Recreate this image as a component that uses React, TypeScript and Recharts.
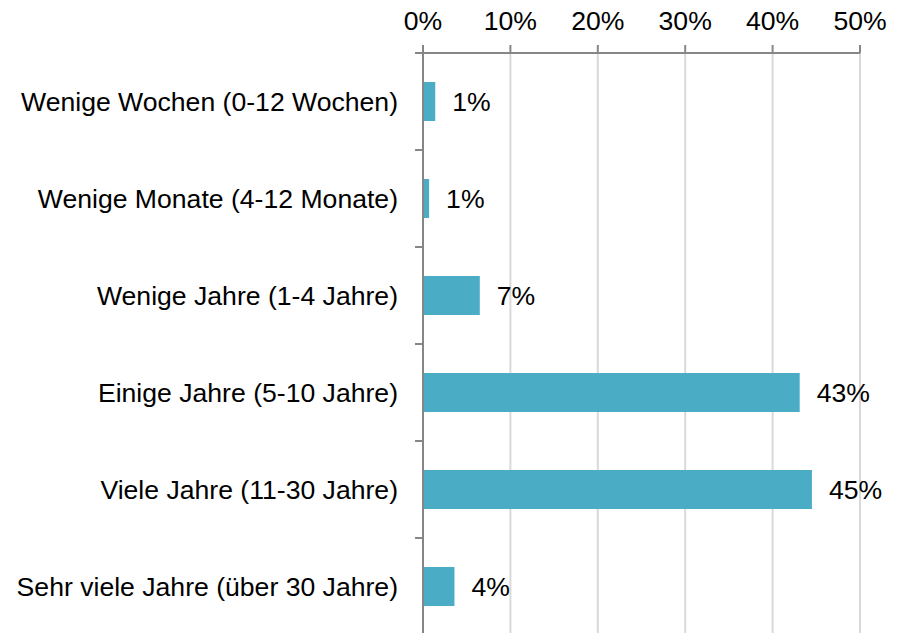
import React from "react";
import { BarChart, Bar, XAxis, YAxis, CartesianGrid, LabelList } from "recharts";

const categories = [
  "Wenige Wochen (0-12 Wochen)",
  "Wenige Monate (4-12 Monate)",
  "Wenige Jahre (1-4 Jahre)",
  "Einige Jahre (5-10 Jahre)",
  "Viele Jahre (11-30 Jahre)",
  "Sehr viele Jahre (über 30 Jahre)",
];
const values = [1.4, 0.7, 6.5, 43.1, 44.5, 3.6];
const xTicks = [0, 10, 20, 30, 40, 50];

const data = categories.map((name, i) => ({ name, value: values[i] }));

const FONT = "'Liberation Sans', Arial, sans-serif";
const FONT_SIZE = 26.6;
const AXIS_COLOR = "#868686";
const HALF_BAND = 48.5;

const YTick = (props: any) => {
  const { x, y, payload } = props;
  return (
    <g>
      <line x1={x - 8} x2={x} y1={y - HALF_BAND} y2={y - HALF_BAND} stroke={AXIS_COLOR} strokeWidth={2} />
      <text x={x - 25} y={y} textAnchor="end" dominantBaseline="central" fontSize={FONT_SIZE} fill="#000" fontFamily={FONT}>
        {payload.value}
      </text>
    </g>
  );
};

const XTick = (props: any) => {
  const { x, y, payload } = props;
  return (
    <text x={x} y={y - 22} textAnchor="middle" dominantBaseline="central" fontSize={FONT_SIZE} fill="#000" fontFamily={FONT}>
      {`${payload.value}%`}
    </text>
  );
};

export default function App() {
  return (
    <div style={{ position: "fixed", left: 0, top: 0, width: 898, height: 640, overflow: "hidden", background: "#fff" }}>
      <BarChart
        width={898}
        height={640}
        data={data}
        layout="vertical"
        margin={{ top: 0, right: 38, bottom: 5, left: 0 }}
      >
        <CartesianGrid horizontal={false} stroke="#D9D9D9" strokeWidth={2} />
        <XAxis
          type="number"
          orientation="top"
          domain={[0, 50]}
          ticks={xTicks}
          height={53}
          axisLine={{ stroke: AXIS_COLOR, strokeWidth: 2 }}
          tickLine={{ stroke: AXIS_COLOR, strokeWidth: 2 }}
          tickSize={8}
          tick={<XTick />}
          interval={0}
        />
        <YAxis
          type="category"
          dataKey="name"
          width={423}
          axisLine={{ stroke: AXIS_COLOR, strokeWidth: 2 }}
          tickLine={false}
          tickSize={0}
          tickMargin={0}
          tick={<YTick />}
          interval={0}
        />
        <Bar dataKey="value" fill="#4BACC6" barSize={39} isAnimationActive={false}>
          <LabelList
            dataKey="value"
            position="right"
            offset={17}
            formatter={(v: any) => `${Math.round(Number(v))}%`}
            style={{ fontSize: FONT_SIZE, fill: "#000", fontFamily: FONT }}
          />
        </Bar>
      </BarChart>
    </div>
  );
}
